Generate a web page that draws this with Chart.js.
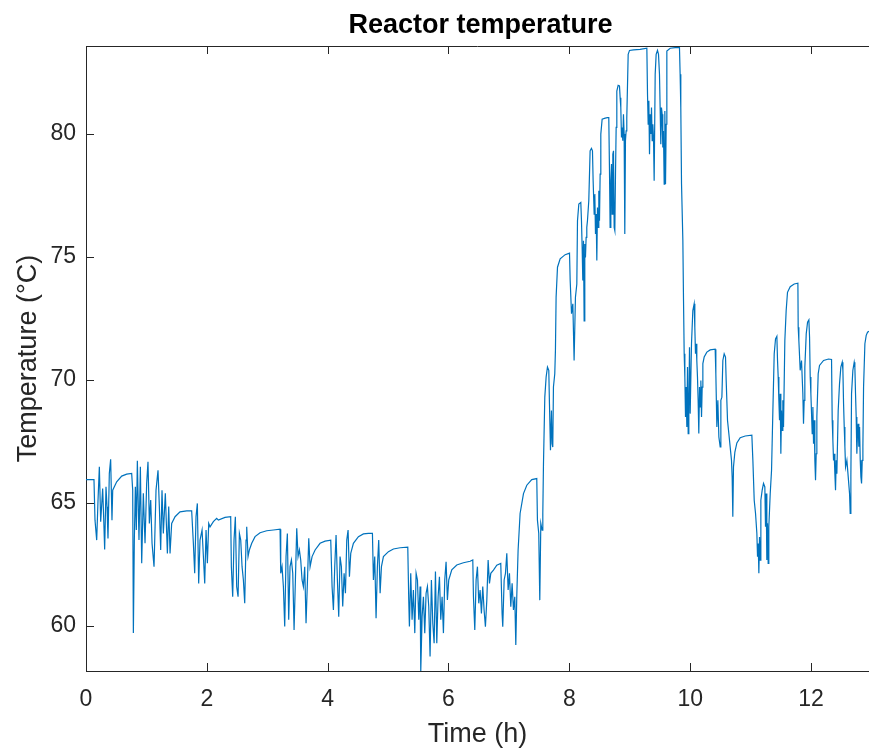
<!DOCTYPE html>
<html>
<head>
<meta charset="utf-8">
<script src="https://cdn.jsdelivr.net/npm/chart.js@4.4.1/dist/chart.umd.min.js"></script>
<style>
html,body{margin:0;padding:0;background:#fff;}
canvas{display:block;}
</style>
</head>
<body>
<canvas id="c" width="869" height="751"></canvas>
<script>
// ---- Data (time in hours, temperature in °C) ----
const hoursA = [0,0.132,0.149,0.177,0.199,0.221,0.243,0.276,0.292,0.309,0.331,0.348,0.364,0.386,0.408,0.430,0.442,0.508,0.591,0.673,0.756,0.773,0.784,0.800,0.817,0.833,0.850,0.877,0.900,0.922,0.949,0.977,1.004,1.026,1.049,1.071,1.093,1.126,1.159,1.192,1.214,1.236,1.258,1.280,1.313,1.347,1.369,1.391,1.418,1.474,1.556,1.667,1.749,1.777,1.799,1.821,1.843,1.865,1.887,1.921,1.943,1.965,1.987,2.009,2.031,2.053,2.108,2.163];
const tempA  = [65.95,65.95,64.30,63.49,65.12,66.47,64.24,65.59,64.44,63.11,65.66,64.85,63.56,66.20,66.77,64.30,65.52,65.86,66.09,66.17,66.20,65.52,59.71,63.49,65.66,63.90,66.71,63.49,66.47,62.55,65.39,63.36,65.79,66.67,64.17,65.12,63.36,62.41,65.52,66.33,64.85,63.09,65.52,63.76,65.39,62.95,64.85,62.95,64.17,64.44,64.64,64.68,64.68,63.36,62.14,64.44,64.98,61.73,63.49,63.90,62.82,61.73,63.90,62.55,64.17,64.03,64.24,64.37];

const hoursB = [2.191,2.301,2.395,2.406,2.428,2.450,2.472,2.494,2.517,2.539,2.561,2.583,2.605,2.627,2.649,2.660,2.682,2.704,2.743,2.798,2.881,2.991,3.102,3.212,3.223,3.245,3.267,3.289,3.311,3.333,3.355,3.377,3.400,3.422,3.444,3.466,3.488,3.510,3.532,3.554,3.576,3.598,3.620,3.642,3.664,3.687,3.709,3.742,3.792,3.874,3.957,4.051,4.073,4.095,4.117,4.139,4.161,4.183,4.205,4.227];
const tempB  = [64.30,64.41,64.44,62.41,61.19,63.49,64.44,61.60,61.19,63.76,63.49,62.41,61.87,60.92,63.49,64.03,62.82,63.09,63.36,63.63,63.79,63.87,63.90,63.93,62.14,62.41,61.60,59.98,62.82,63.76,60.25,62.41,62.68,62.14,59.84,61.87,63.97,62.82,63.09,62.68,61.87,61.60,62.41,60.11,61.73,63.56,62.41,62.82,63.09,63.36,63.45,63.49,61.60,60.65,62.41,63.70,61.87,60.38,62.82,62.41];

const hoursC = [4.249,4.272,4.294,4.316,4.338,4.360,4.382,4.426,4.509,4.592,4.674,4.741,4.757,4.779,4.801,4.823,4.845,4.868,4.890,4.923,5.006,5.088,5.199,5.326,5.342,5.353,5.375,5.397,5.419,5.442,5.464,5.486,5.508,5.530,5.541,5.563,5.585,5.607,5.629,5.651,5.673,5.695,5.717,5.740,5.762,5.784,5.806,5.828,5.850,5.872,5.894,5.916,5.938,5.960,5.982,6.004,6.054,6.137,6.247,6.358];
const tempC  = [60.79,62.14,61.33,63.49,63.90,62.00,62.95,63.36,63.63,63.74,63.76,63.76,61.87,62.82,60.31,62.41,63.49,61.33,62.41,62.82,63.02,63.13,63.18,63.20,61.06,59.98,62.14,60.25,61.46,59.71,62.14,61.87,60.25,61.60,58.15,60.38,61.19,59.71,61.33,61.60,60.79,58.76,61.87,60.11,59.30,62.21,59.30,61.19,62.00,60.25,61.19,59.71,61.87,62.61,61.06,61.87,62.28,62.48,62.57,62.63];

const hoursD = [6.402,6.413,6.435,6.457,6.479,6.501,6.523,6.545,6.567,6.589,6.611,6.634,6.656,6.678,6.700,6.744,6.799,6.865,6.887,6.898,6.921,6.943,6.965,6.987,7.009,7.031,7.053,7.075,7.097,7.114,7.130,7.152,7.185,7.241,7.296,7.378,7.461,7.472,7.494,7.511,7.528,7.550,7.561,7.572,7.594,7.616,7.638,7.660,7.671,7.688,7.704,7.715,7.726,7.737,7.759,7.770,7.781,7.804,7.848,7.931,8.003,8.014,8.036,8.058,8.079,8.101,8.124];
const tempD  = [62.68,61.19,59.84,61.87,62.41,60.92,61.46,60.51,61.60,60.65,59.97,61.05,62.68,61.73,62.14,62.27,62.47,62.54,60.51,59.97,61.87,62.14,62.95,61.46,62.14,60.78,61.73,60.65,61.19,59.23,61.19,63.08,64.57,65.38,65.72,65.95,65.99,64.30,63.76,61.05,64.17,63.89,64.57,66.60,69.30,70.12,70.52,70.39,69.03,67.14,68.76,67.41,67.27,69.71,70.25,71.20,73.36,74.58,74.92,75.09,75.15,74.04,72.69,73.09,70.79,73.36,73.90];

const hoursE = [8.135,8.157,8.190,8.201,8.212,8.223,8.234,8.245,8.256,8.267,8.278,8.289,8.300,8.322,8.344,8.366,8.383,8.394,8.411,8.422,8.433,8.444,8.455,8.466,8.477,8.488,8.499,8.510,8.521,8.543,8.593,8.631,8.653,8.664,8.675,8.687,8.698,8.709,8.720,8.731,8.742,8.753,8.764,8.775,8.786,8.808,8.830,8.841,8.852,8.863,8.874,8.885,8.896,8.907,8.918,8.929,8.940,8.951,8.974,8.996,9.062,9.172,9.283,9.294,9.305,9.316,9.327,9.338,9.349,9.360,9.371,9.382,9.393,9.404,9.421,9.437,9.459,9.476,9.492,9.503,9.514,9.525,9.536,9.547,9.558,9.570,9.581,9.592,9.603,9.614,9.669,9.752,9.823,9.834,9.845,9.857,9.879,9.890];
const tempE  = [76.47,77.15,77.21,76.47,75.39,74.04,75.66,72.40,75.52,74.98,75.79,76.20,76.47,77.28,79.31,79.41,79.31,78.09,76.74,77.55,75.93,76.74,74.85,77.01,76.20,77.69,76.47,78.36,79.99,80.60,80.64,80.66,80.66,78.63,76.20,78.09,78.77,76.74,79.17,79.31,76.20,76.07,78.36,80.26,81.74,81.97,81.95,81.47,81.07,79.85,80.26,79.72,80.80,79.99,75.93,79.72,80.12,80.66,83.23,83.39,83.41,83.43,83.48,81.61,80.39,81.34,79.17,80.80,79.99,81.07,79.72,80.39,79.85,78.09,82.42,83.23,83.39,83.23,82.42,81.07,79.58,81.07,80.80,79.45,80.12,77.96,80.93,77.96,80.39,83.37,83.48,83.50,83.50,82.42,81.07,77.96,75.66,73.23];

const hoursF = [9.901,9.912,9.923,9.934,9.945,9.956,9.967,9.978,9.989,10.000,10.022,10.044,10.066,10.077,10.088,10.099,10.110,10.121,10.132,10.143,10.155,10.166,10.177,10.188,10.199,10.210,10.232,10.276,10.331,10.414,10.425,10.442,10.458,10.475,10.497,10.508,10.525,10.541,10.563,10.585,10.596,10.618,10.640,10.662,10.684,10.695,10.706,10.717,10.740,10.773,10.828,10.911,11.021,11.038,11.060,11.082,11.104,11.115,11.126,11.137,11.148,11.159,11.170,11.192,11.214,11.236,11.247,11.258,11.269,11.280,11.291,11.302,11.325,11.347,11.369,11.391,11.413,11.435,11.446,11.457,11.468,11.479,11.490,11.501,11.512,11.523,11.534,11.545,11.567,11.589,11.611,11.656,11.722,11.783,11.788,11.799,11.821,11.843,11.865,11.876,11.887,11.898,11.921,11.943,11.965,11.976,11.987,11.998,12.020,12.031,12.042,12.053,12.064,12.075,12.086,12.097,12.119,12.141,12.208,12.290,12.340,12.351,12.362,12.373,12.384,12.395,12.406,12.417,12.428,12.450,12.472,12.494,12.517,12.528,12.539,12.550,12.561,12.572,12.594,12.616,12.638,12.649,12.660,12.671,12.693,12.715,12.726,12.737,12.748,12.759,12.770,12.781,12.792,12.804,12.815,12.826,12.837,12.848,12.859,12.870,12.892,12.914,12.936,12.96];
const tempF  = [71.06,70.12,68.49,69.71,68.09,70.52,67.82,68.90,71.33,68.63,71.47,72.82,73.09,72.14,71.06,71.47,70.79,70.12,69.17,67.82,69.71,68.90,69.98,68.49,69.71,70.66,70.93,71.13,71.22,71.25,70.25,68.09,69.17,67.68,67.28,69.17,69.30,70.79,71.06,70.93,69.98,68.36,67.82,67.28,66.73,66.06,64.44,66.46,67.07,67.44,67.65,67.72,67.75,66.73,65.11,64.57,63.76,62.81,63.35,62.14,63.62,62.68,65.11,65.52,65.79,65.65,64.03,65.38,62.68,64.17,62.54,64.03,65.38,66.33,68.76,71.06,71.67,71.77,70.79,70.12,69.17,68.36,69.44,67.00,68.76,67.95,69.17,68.09,71.60,72.82,73.56,73.79,73.90,73.93,72.14,71.60,70.39,70.79,69.44,68.22,69.17,70.52,71.87,72.35,72.44,71.74,70.12,69.44,67.82,68.90,67.41,68.36,66.73,65.92,67.00,68.49,70.25,70.59,70.79,70.85,70.83,68.36,67.55,66.73,67.00,66.19,65.52,66.73,66.19,68.76,69.84,70.52,70.72,70.39,69.03,68.09,67.28,66.46,66.73,66.06,65.38,64.57,66.06,69.44,70.39,70.72,70.52,69.44,68.49,67.00,67.82,68.22,67.28,68.09,66.73,66.06,65.79,66.73,67.28,69.71,71.47,71.81,71.94,71.98];

const xTickValues = [0, 2, 4, 6, 8, 10, 12];
const yTickValues = [60, 65, 70, 75, 80];
const xRange = [0, 12.96];
const yRange = [58.17, 83.57];

const titleText = 'Reactor temperature';
const xLabel = 'Time (h)';
const yLabel = 'Temperature (°C)';

// ---- Build ----
const hours = [].concat(hoursA, hoursB, hoursC, hoursD, hoursE, hoursF);
const temps = [].concat(tempA, tempB, tempC, tempD, tempE, tempF);
if (hours.length !== temps.length) console.error('length mismatch', hours.length, temps.length);
const points = hours.map((t, i) => ({ x: t, y: temps[i] }));

const FONT = "'Liberation Sans', Arial, Helvetica, sans-serif";
const INK = '#262626';

const frameTicks = {
  id: 'frameTicks',
  afterDraw(chart) {
    const { ctx, chartArea: a, scales } = chart;
    ctx.save();
    ctx.strokeStyle = INK;
    ctx.lineWidth = 1;
    ctx.beginPath();
    // top frame
    ctx.moveTo(a.left, a.top + 0.5); ctx.lineTo(a.right, a.top + 0.5);
    // inward ticks
    const L = 8;
    scales.x.ticks.forEach(tk => {
      const px = Math.round(scales.x.getPixelForValue(tk.value)) + 0.5;
      ctx.moveTo(px, a.bottom); ctx.lineTo(px, a.bottom - L);
      ctx.moveTo(px, a.top); ctx.lineTo(px, a.top + L);
    });
    scales.y.ticks.forEach(tk => {
      const py = Math.round(scales.y.getPixelForValue(tk.value)) + 0.5;
      ctx.moveTo(a.left, py); ctx.lineTo(a.left + L, py);
    });
    ctx.stroke();
    // title
    ctx.fillStyle = '#000';
    ctx.font = 'bold 27px ' + FONT;
    ctx.textAlign = 'center';
    ctx.textBaseline = 'alphabetic';
    ctx.fillText(titleText, (a.left + a.right) / 2 + 3, 33);
    ctx.restore();
  }
};

new Chart(document.getElementById('c'), {
  type: 'line',
  data: {
    datasets: [{
      data: points,
      borderColor: '#0072BD',
      borderWidth: 1.2,
      pointRadius: 0,
      tension: 0,
      fill: false
    }]
  },
  options: {
    responsive: false,
    animation: false,
    layout: { padding: { top: 46, left: 0, right: 0, bottom: 0 } },
    plugins: { legend: { display: false }, title: { display: false }, tooltip: { enabled: false } },
    scales: {
      x: {
        type: 'linear',
        min: xRange[0], max: xRange[1],
        afterBuildTicks: s => { s.ticks = xTickValues.map(v => ({ value: v })); },
        afterFit: s => { s.height = 80; },
        grid: { display: true, drawOnChartArea: false, drawTicks: false },
        border: { display: true, color: INK, width: 1 },
        ticks: { color: INK, font: { family: FONT, size: 23 }, padding: 15, maxRotation: 0 },
        title: { display: true, text: xLabel, color: INK, font: { family: FONT, size: 27 }, padding: { top: 0, bottom: 0 } }
      },
      y: {
        type: 'linear',
        min: yRange[0], max: yRange[1],
        afterBuildTicks: s => { s.ticks = yTickValues.map(v => ({ value: v })); },
        afterFit: s => { s.width = 86; },
        grid: { display: true, drawOnChartArea: false, drawTicks: false },
        border: { display: true, color: INK, width: 1 },
        ticks: { color: INK, font: { family: FONT, size: 23 }, padding: 10 },
        title: { display: true, text: yLabel, color: INK, font: { family: FONT, size: 27 }, padding: { top: 12, bottom: 0 } }
      }
    }
  },
  plugins: [frameTicks]
});
</script>
</body>
</html>
